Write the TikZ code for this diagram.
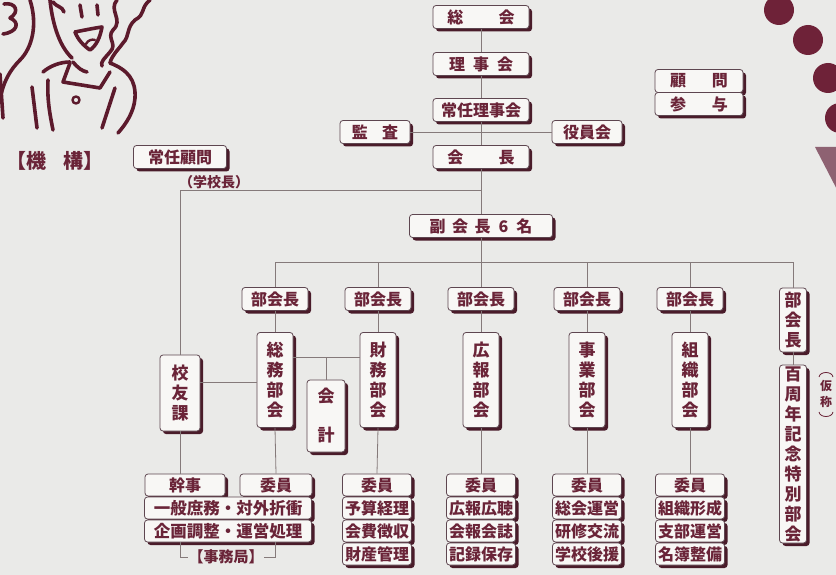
\documentclass[tikz,border=0pt]{standalone}
\usepackage{fontspec}
\setmainfont{Noto Sans CJK JP}
\usetikzlibrary{shadows}

\definecolor{paper}{HTML}{EAEAE8}
\definecolor{ink}{HTML}{6A2438}
\definecolor{edge}{HTML}{5E4650}
\definecolor{shade}{HTML}{4A1C2A}
\definecolor{cardfill}{HTML}{F8F7F5}
\definecolor{wire}{HTML}{857A7A}
\definecolor{toon}{HTML}{5C1A2C}
\definecolor{dotc}{HTML}{6E2238}
\definecolor{wedge}{HTML}{8E6272}

\newcommand\hfnt{\fontsize{16}{18}\selectfont\bfseries}
\newcommand\vfnt{\fontsize{17}{20}\selectfont\bfseries}
\newcommand\sfnt{\fontsize{16}{18}\selectfont\bfseries}

\tikzset{
  card/.style={draw=edge, line width=0.8pt, rounded corners=3pt, fill=cardfill,
    text=ink, inner sep=0pt,
    drop shadow={shadow xshift=3pt, shadow yshift=-3pt, fill=shade, opacity=1}},
  hcard/.style={card, font=\hfnt, minimum height=23pt},
  vcard/.style={card, font=\vfnt, align=center},
  rowcard/.style={card, font=\sfnt, minimum height=22pt, minimum width=69pt},
  link/.style={draw=wire, line width=0.8pt},
  sketch/.style={draw=toon, line width=3.6pt, line cap=round, line join=round},
  plaintext/.style={text=ink, inner sep=0pt},
}

\begin{document}
\begin{tikzpicture}[x=1pt,y=-1pt]
\useasboundingbox (0,0) rectangle (836,575);
\fill[paper] (0,0) rectangle (836,575);

% --- cartoon of two figures, upper left
\begin{scope}
\clip (0,0) rectangle (836,575);
\draw[sketch] (30,0) .. controls (38,25) and (32,48) .. (20,60) .. controls (10,70) and (3,82) .. (0,100);
\draw[sketch] (4,4) .. controls (16,2) and (20,12) .. (10,18) .. controls (20,22) and (18,32) .. (3,34);
\draw[sketch] (0,74) -- (3,118);
\draw[sketch] (32,87) -- (37,128);
\draw[sketch] (50,0) .. controls (52,20) and (58,45) .. (72,58);
\draw[sketch] (43,72) .. controls (50,66) and (60,62) .. (70,62);
\draw[sketch] (48,80) .. controls (47,100) and (50,115) .. (53,130);
\draw[sketch] (53,2) .. controls (58,8) and (62,6) .. (64,12);
\draw[sketch] (80,5) -- (82,17);
\draw[sketch] (97,5) -- (98,15);
\draw[sketch] (75,32) .. controls (85,30) and (95,28) .. (102,27) .. controls (100,38) and (96,46) .. (90,50) .. controls (84,46) and (78,40) .. (75,32);
\draw[sketch, line width=2.4pt] (86,44) .. controls (88,40) and (92,39) .. (95,40);
\draw[sketch] (117,0) .. controls (108,10) and (124,20) .. (113,30) .. controls (106,38) and (118,44) .. (110,52) .. controls (105,58) and (100,62) .. (102,66);
\draw[sketch] (150,0) .. controls (140,8) and (146,14) .. (135,20) .. controls (126,28) and (130,36) .. (123,43) .. controls (118,50) and (112,55) .. (110,63);
\draw[sketch] (73,62) .. controls (78,68) and (82,71) .. (87,72);
\draw[sketch] (70,63) -- (63,82) -- (100,88) -- (110,72);
\draw[sketch] (110,63) .. controls (128,70) and (136,80) .. (135,98) .. controls (134,112) and (126,124) .. (118,133);
\draw[sketch, line width=2.4pt] (76,100) circle (3.5);
\draw[sketch] (115,88) -- (102,128);

% --- dots and wedge, upper right
\fill[dotc] (779,10) circle (15);
\fill[dotc] (808,40) circle (15);
\fill[dotc] (828,78) circle (15);
\fill[dotc] (840,118) circle (15);
\fill[wedge] (815,147) -- (845,147) -- (845,205) -- cycle;
\end{scope}

% --- caption
\node[plaintext, font=\fontsize{20}{22}\selectfont\bfseries] (kikou) at (55,161) {【機\hspace{0.9em}構】};

% --- top of the organisation
\node[hcard, minimum width=96pt] (sokai) at (481,17) {総\hspace{2.2em}会};
\node[hcard, minimum width=96pt] (rijikai) at (481,64) {理\hspace{0.5em}事\hspace{0.5em}会};
\node[hcard, minimum width=96pt] (jonin) at (481,110) {常任理事会};
\node[hcard, minimum width=70pt] (kansa) at (375,132) {監\hspace{0.9em}査};
\node[hcard, minimum width=70pt] (yakuin) at (587,132) {役員会};
\node[hcard, minimum width=96pt] (kaicho) at (481,157) {会\hspace{2.2em}長};
\node[hcard, minimum width=143pt] (fuku) at (481,226) {副\hspace{0.4em}会\hspace{0.4em}長\hspace{0.5em}6\hspace{0.5em}名};
\node[hcard, minimum width=93pt] (joninkomon) at (180,157) {常任顧問};
\node[plaintext, font=\fontsize{14}{16}\selectfont\bfseries] (gakko) at (214,182) {（学校長）};

\node[hcard, minimum width=88pt, minimum height=23pt] (komon) at (699,81) {顧\hspace{1.6em}問};
\node[hcard, minimum width=88pt, minimum height=23pt] (sanyo) at (699,104) {参\hspace{1.6em}与};

% --- heads of the sections
\foreach \n/\x in {1/275,2/378,3/481,4/587,5/690}
  \node[hcard, minimum width=66pt] (bucho\n) at (\x,299) {部会長};
\node[vcard, minimum width=27pt, minimum height=64pt] (bucho6) at (793,320) {部\\会\\長};

% --- sections
\node[vcard, minimum width=40pt, minimum height=76pt] (kouyu) at (180,393) {校\\友\\課};
\node[vcard, minimum width=36pt, minimum height=95pt] (bukai1) at (275,380) {総\\務\\部\\会};
\node[vcard, minimum width=38pt, minimum height=72pt] (kaikei) at (326,416) {会\\[19pt]計};
\node[vcard, minimum width=36pt, minimum height=95pt] (bukai2) at (378,380) {財\\務\\部\\会};
\node[vcard, minimum width=36pt, minimum height=95pt] (bukai3) at (481,380) {広\\報\\部\\会};
\node[vcard, minimum width=36pt, minimum height=95pt] (bukai4) at (587,380) {事\\業\\部\\会};
\node[vcard, minimum width=36pt, minimum height=95pt] (bukai5) at (690,380) {組\\織\\部\\会};
\node[vcard, minimum width=27pt, minimum height=178pt] (bukai6) at (793,454) {百\\周\\年\\記\\念\\特\\別\\部\\会};
\node[plaintext, font=\fontsize{12}{16}\selectfont\bfseries, align=center] (kasho) at (826,394) {仮\\称};
\draw[ink, line width=0.8pt] (819,377) .. controls (820,371) and (832,371) .. (833,377);
\draw[ink, line width=0.8pt] (819,412) .. controls (820,418) and (832,418) .. (833,412);

% --- secretariat rows
\node[rowcard, minimum width=80pt] (kanji) at (185,485) {幹事};
\node[rowcard, minimum width=72pt] (iin1) at (276,485) {委員};
\node[rowcard, minimum width=167pt, font=\fontsize{16.5}{18}\selectfont\bfseries] (ippan) at (228,508) {一般庶務・対外折衝};
\node[rowcard, minimum width=167pt, font=\fontsize{16.5}{18}\selectfont\bfseries] (kikaku) at (228,531) {企画調整・運営処理};
\node[plaintext, font=\fontsize{15}{17}\selectfont\bfseries] (jimu) at (226,557) {【事務局】};

% --- task rows of each section
\node[rowcard] (iin2) at (377,485) {委員};
\node[rowcard] (yosan) at (377,508) {予算経理};
\node[rowcard] (kaihi) at (377,531) {会費徴収};
\node[rowcard] (zaisan) at (377,554) {財産管理};

\node[rowcard] (iin3) at (481,485) {委員};
\node[rowcard] (koho) at (481,508) {広報広聴};
\node[rowcard] (kaiho) at (481,531) {会報会誌};
\node[rowcard] (kiroku) at (481,554) {記録保存};

\node[rowcard] (iin4) at (587,485) {委員};
\node[rowcard] (sokaiun) at (587,508) {総会運営};
\node[rowcard] (kenshu) at (587,531) {研修交流};
\node[rowcard] (gakkou) at (587,554) {学校後援};

\node[rowcard] (iin5) at (690,485) {委員};
\node[rowcard] (soshiki) at (690,508) {組織形成};
\node[rowcard] (shibu) at (690,531) {支部運営};
\node[rowcard] (meibo) at (690,554) {名簿整備};

% --- connectors
\coordinate (advisorjoin) at (481,190);
\coordinate (bar) at (481,262);
\coordinate (midlink) at (326,357);
\coordinate (sidelink) at (229,382);

\draw[link] (sokai.south) -- (rijikai.north);
\draw[link] (rijikai.south) -- (jonin.north);
\draw[link] (jonin.south) -- (kaicho.north);
\draw[link] (kansa.east) -- (yakuin.west);
\draw[link] (kaicho.south) -- (fuku.north);
\draw[link] (kaicho.south |- advisorjoin) -| (kouyu.north);
\draw[link] (fuku.south) -- (bar);
\draw[link] (bucho1.north |- bar) -- (bucho6.north |- bar);
\foreach \n in {1,...,6}
  \draw[link] (bucho\n.north |- bar) -- (bucho\n.north);
\foreach \n in {1,...,6}
  \draw[link] (bucho\n.south) -- (bukai\n.north);
\foreach \n in {1,...,5}
  \draw[link] (bukai\n.south) -- (iin\n.north);
\draw[link] (kouyu.south) -- (kouyu.south |- kanji.north);
\draw[link] (bukai1.east |- midlink) -- (bukai2.west |- midlink);
\draw[link] (midlink) -- (kaikei.north);
\draw[link] (kouyu.east |- sidelink) -- (bukai1.west |- sidelink);
\draw[link] (kikaku.south -| kouyu.south) |- (jimu.west);
\draw[link] (kikaku.south -| bukai1.south) |- (jimu.east);
\end{tikzpicture}
\end{document}
